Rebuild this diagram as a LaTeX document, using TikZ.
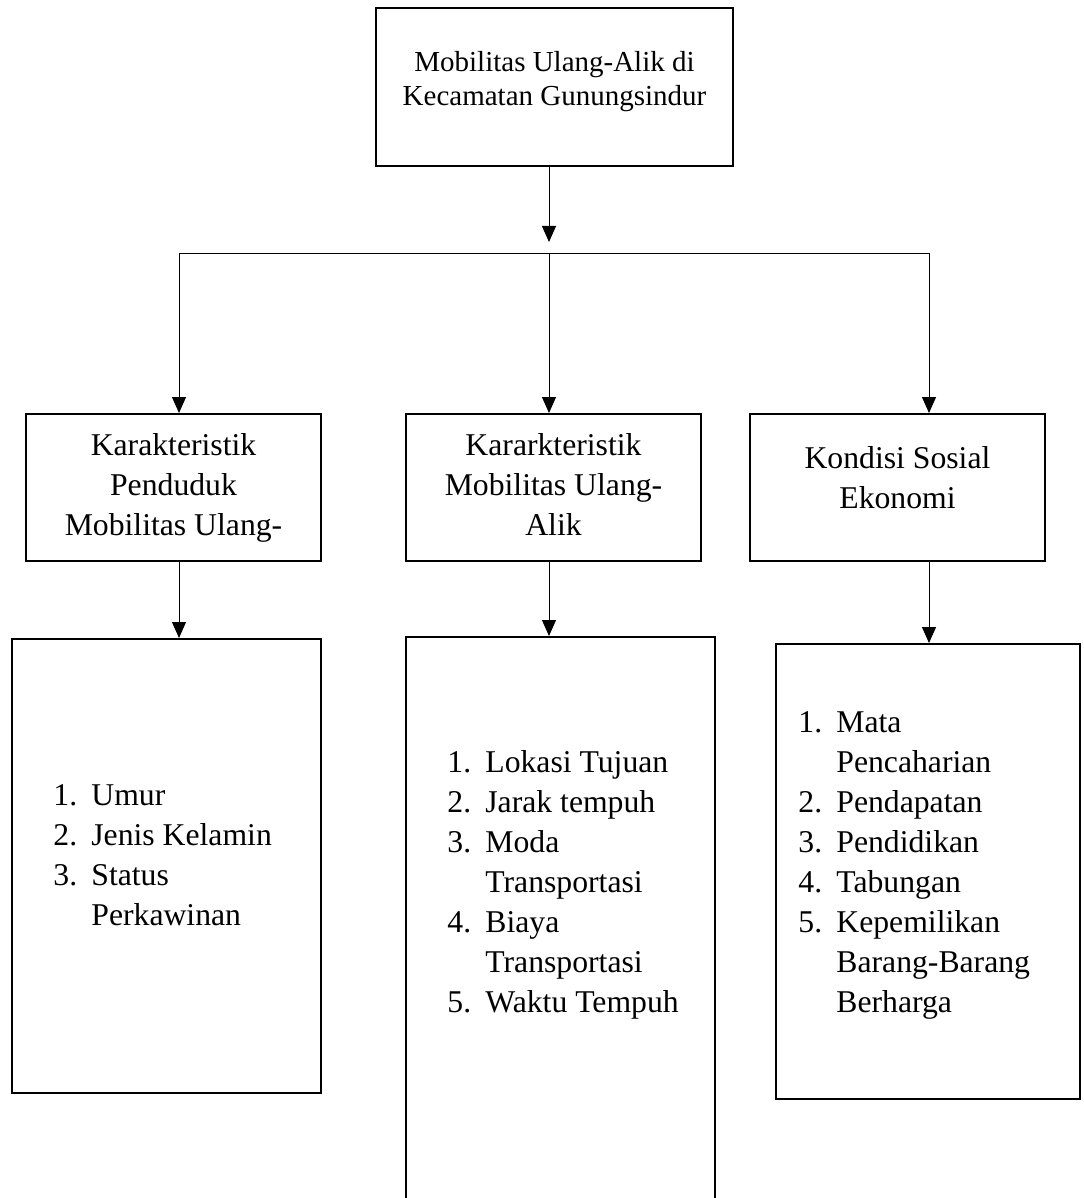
\documentclass[tikz,border=0pt]{standalone}
\usepackage{fontspec}
\setmainfont{Liberation Serif}
\usetikzlibrary{arrows.meta,positioning}
\tikzset{
  wire/.style     = {line width=0.5pt},
  arr/.style      = {wire, -{Triangle[length=8pt,width=7pt]}},
  boxframe/.style = {draw, line width=1pt, rectangle, inner sep=0pt},
  txt/.style      = {inner sep=0pt, anchor=base},
  listtxt/.style  = {inner sep=0pt, anchor=base west},
}
\newcommand{\rows}[1]{\begin{tabular}[t]{@{}c@{}}#1\end{tabular}}
\newcommand{\items}[1]{\begin{tabular}[t]{@{}p{19pt}@{}l@{}}#1\end{tabular}}

\begin{document}
\begin{tikzpicture}[x=0.5pt,y=-0.5pt,
    every node/.style={font=\fontsize{15.85}{20}\selectfont},
    mid box/.style={boxframe, minimum width=147.5pt, minimum height=73.5pt},
  ]
  \useasboundingbox (0,0) rectangle (1083,1198);
  \clip (0,0) rectangle (1083,1198);

  % ---- top ----------------------------------------------------------------
  \node[boxframe, minimum width=178.5pt, minimum height=79pt] (mobil) at (554.5,87) {};
  \node[txt, font=\fontsize{14.5}{17}\selectfont] (mobiltxt) at (554.5,72)
        {\rows{Mobilitas Ulang-Alik di\\Kecamatan Gunungsindur}};

  % ---- three aspects -------------------------------------------------------
  \node[mid box] (kpend) at (173.5,487.5) {};
  \node[txt] (kpendtxt) at (173.5,455) {\rows{Karakteristik\\Penduduk\\Mobilitas Ulang-}};
  \node[mid box] (kmob) at (553.5,487.5) {};
  \node[txt] (kmobtxt) at (553.5,455) {\rows{Kararkteristik\\Mobilitas Ulang-\\Alik}};
  \node[mid box] (ksos) at (897.5,487.5) {};
  \node[txt] (ksostxt) at (897.5,468) {\rows{Kondisi Sosial\\Ekonomi}};

  % ---- indicator lists -----------------------------------------------------
  \node[boxframe, minimum width=154.5pt, minimum height=227pt] (lpend) at (166.5,866) {};
  \node[listtxt] (lpendtxt) at (53,805)
        {\items{1.&Umur\\2.&Jenis Kelamin\\3.&Status\\&Perkawinan}};
  \node[boxframe, minimum width=154.5pt, minimum height=296.5pt] (lmob) at (560.5,933.5) {};
  \node[listtxt] (lmobtxt) at (447,772)
        {\items{1.&Lokasi Tujuan\\2.&Jarak tempuh\\3.&Moda\\&Transportasi\\
                4.&Biaya\\&Transportasi\\5.&Waktu Tempuh}};
  \node[boxframe, minimum width=152pt, minimum height=227.5pt] (lsos) at (928,871.5) {};
  \node[listtxt] (lsostxt) at (798,732)
        {\items{1.&Mata\\&Pencaharian\\2.&Pendapatan\\3.&Pendidikan\\4.&Tabungan\\
                5.&Kepemilikan\\&Barang-Barang\\&Berharga}};

  % ---- connectors ----------------------------------------------------------
  \coordinate (split) at (549,253);
  \coordinate (splitin) at (549,242);
  \coordinate (jl) at (179,253);
  \coordinate (jr) at (929,253);
  \draw[arr] (mobil.south -| split) -- (splitin);
  \draw[wire] (jl) -- (jr);
  \draw[arr] (jl) -- (jl |- kpend.north);
  \draw[arr] (split) -- (split |- kmob.north);
  \draw[arr] (jr) -- (jr |- ksos.north);
  \draw[arr] (jl |- kpend.south) -- (jl |- lpend.north);
  \draw[arr] (split |- kmob.south) -- (split |- lmob.north);
  \draw[arr] (jr |- ksos.south) -- (jr |- lsos.north);
\end{tikzpicture}
\end{document}
